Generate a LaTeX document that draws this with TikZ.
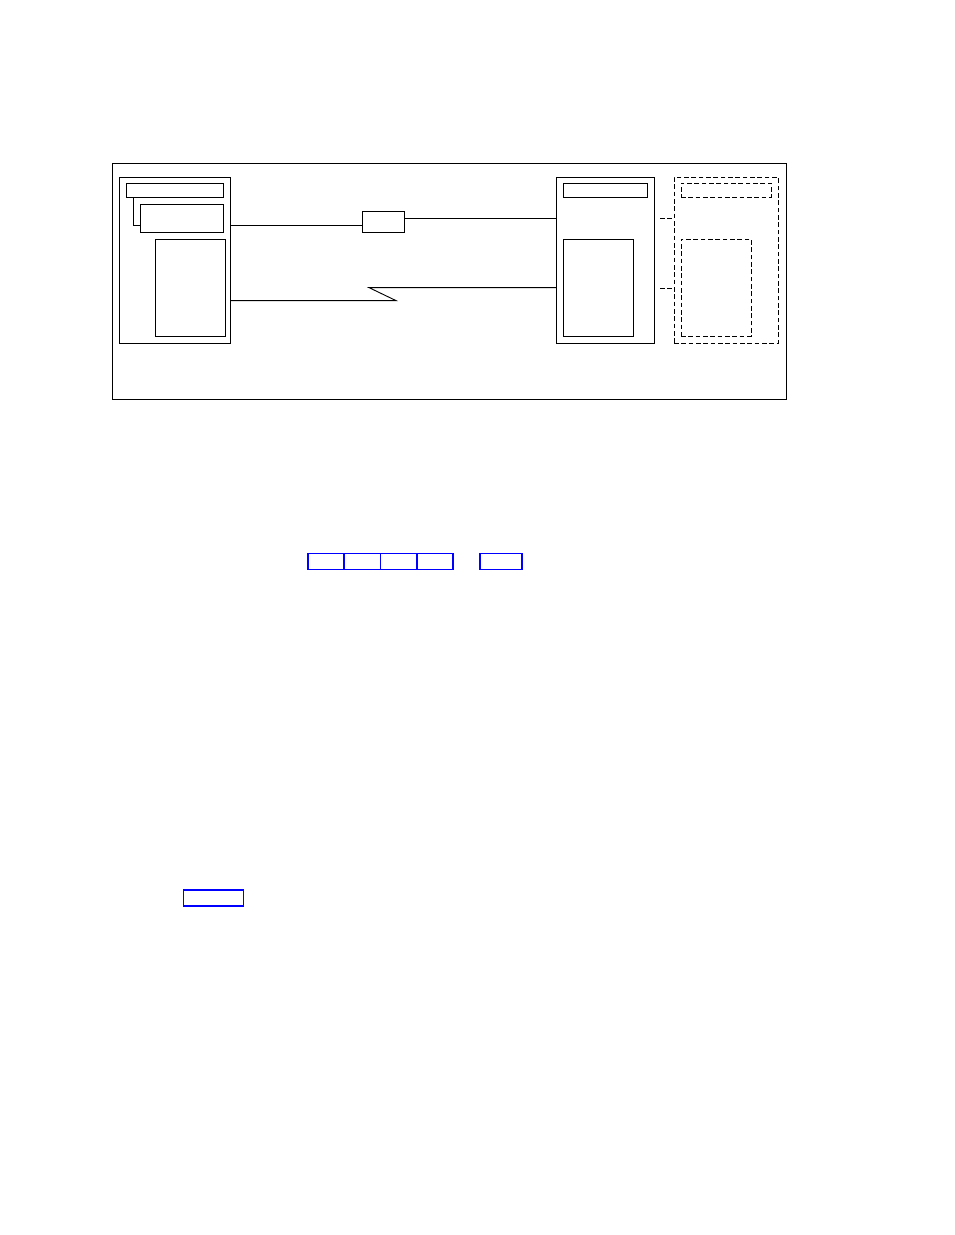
\documentclass[tikz,border=0pt]{standalone}
\usepackage{tikz}
\usepackage{xcolor}

\tikzset{
  sz/.style 2 args={minimum width=#1*0.75pt, minimum height=#2*0.75pt},
  box/.style={draw=black, rectangle, inner sep=0pt, outer sep=0pt},
  ghost/.style={box, dash pattern=on 3.5pt off 2pt},
  fld/.style={draw=blue, rectangle, inner sep=0pt, outer sep=0pt, line width=1.2pt},
}

\begin{document}
\begin{tikzpicture}[x=0.75pt, y=-0.75pt, line width=0.7pt]
	\useasboundingbox (0,0) rectangle (954,1235);

	% system frame
	\node[box, sz={674}{236}] (frame) at (449,281) {};

	% left host
	\node[box, sz={111}{166}] (hostA) at (174.5,260) {};
	\node[box, sz={97}{14}] (barA) at (174.5,190) {};
	\node[box, sz={83}{28}] (subA) at (181.5,218) {};
	\node[box, sz={70}{97}] (memA) at (190,287.5) {};

	% right host
	\node[box, sz={98}{166}] (hostB) at (605,260) {};
	\node[box, sz={84}{14}] (barB) at (605,190) {};
	\node[box, sz={70}{97}] (memB) at (598,287.5) {};

	% optional host
	\node[ghost, sz={104}{166}] (spare) at (726,260) {};
	\node[ghost, sz={90}{14}] (barC) at (726,190) {};
	\node[ghost, sz={70}{97}] (memC) at (716,287.5) {};

	% link box
	\node[box, sz={42}{21}] (tap) at (383,221.5) {};

	\coordinate (brk) at (133,225);
	\coordinate (upB) at (0,218);
	\coordinate (loA) at (0,300.6);
	\coordinate (zzL) at (396,300.6);
	\coordinate (zzR) at (369,287.6);
	\coordinate (dA) at (660,218);
	\coordinate (dB) at (660,288);

	\draw (barA.south west -| brk) |- (subA.west |- brk);
	\draw (hostA.east |- brk) -- (tap.west |- brk);
	\draw (tap.east |- upB) -- (hostB.west |- upB);
	\draw (hostA.east |- loA) -- (zzL) -- (zzR) -- (hostB.west |- zzR);
	\draw[dash pattern=on 3.5pt off 2pt] (dA) -- (spare.west |- dA);
	\draw[dash pattern=on 3.5pt off 2pt] (dB) -- (spare.west |- dB);

	% fields
	\foreach \i in {1,...,4}
		\node[fld, sz={36.25}{16}, anchor=west] (f\i) at ({308+36.25*(\i-1)},561.5) {};
	\node[fld, sz={42}{16}] (f5) at (501,561.5) {};
	\node[fld, sz={60}{16}] (f6) at (213.5,898) {};
\end{tikzpicture}
\end{document}
